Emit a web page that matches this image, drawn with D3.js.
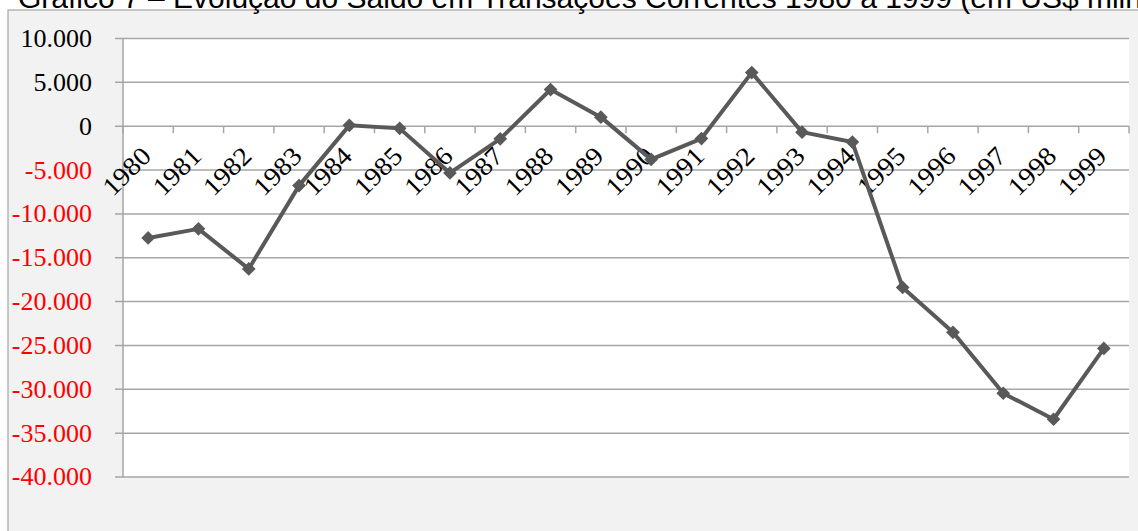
<!DOCTYPE html>
<html>
<head>
<meta charset="utf-8">
<script src="https://cdn.jsdelivr.net/npm/d3@7"></script>
<style>
  body { margin: 0; background: #ffffff; }
  svg { display: block; }
</style>
</head>
<body>
<div id="chart"></div>
<script>
var width = 1138
var height = 531

// data: saldo em transacoes correntes (US$ milhoes)
var years = ["1980","1981","1982","1983","1984","1985","1986","1987","1988","1989",
             "1990","1991","1992","1993","1994","1995","1996","1997","1998","1999"]
var saldo = [-12739, -11706, -16273, -6773, 95, -248, -5323, -1438, 4180, 1033,
             -3784, -1407, 6109, -676, -1811, -18384, -23502, -30452, -33416, -25335]
var yTicks = [10000, 5000, 0, -5000, -10000, -15000, -20000, -25000, -30000, -35000, -40000]
var title = "Gráfico 7 – Evolução do Saldo em Transações Correntes 1980 a 1999 (em US$ milhões)"

var plot = {left: 123, right: 1129, top: 38.5, bottom: 477}
var serif = "'Liberation Serif', 'Times New Roman', serif"

var svg = d3.select("#chart").append("svg")
    .attr("width", width)
    .attr("height", height)

// outer chart area
svg.append("rect")
    .attr("x", 8)
    .attr("y", 10)
    .attr("width", width)
    .attr("height", height)
    .attr("fill", "#f2f2f2")
    .attr("stroke", "#a6a6a6")
    .attr("stroke-width", 1.2)

svg.append("text")
    .text(title)
    .attr("x", 18)
    .attr("y", 8)
    .attr("font-family", "'Liberation Sans', Arial, sans-serif")
    .attr("font-size", "30px")
    .attr("fill", "#000")

svg.append("rect")
    .attr("x", plot.left)
    .attr("y", plot.top)
    .attr("width", plot.right - plot.left)
    .attr("height", plot.bottom - plot.top)
    .attr("fill", "#ffffff")

var x = d3.scaleBand()
    .domain(years)
    .range([plot.left, plot.right])

var y = d3.scaleLinear()
    .domain([-40000, 10000])
    .range([plot.bottom, plot.top])

// gridlines (extend left as tick marks)
svg.append("g")
    .selectAll("line")
    .data(yTicks)
    .enter().append("line")
    .attr("x1", plot.left - 8)
    .attr("x2", plot.right)
    .attr("y1", function(d) { return y(d) })
    .attr("y2", function(d) { return y(d) })
    .attr("stroke", "#a6a6a6")
    .attr("stroke-width", 1.5)

// y axis line
svg.append("line")
    .attr("x1", plot.left).attr("x2", plot.left)
    .attr("y1", plot.top).attr("y2", plot.bottom)
    .attr("stroke", "#a6a6a6")
    .attr("stroke-width", 1.5)

// y labels, slightly stretched wide like the original
svg.append("g")
    .attr("transform", "translate(92,0) scale(1.04,1)")
    .selectAll("text")
    .data(yTicks)
    .enter().append("text")
    .text(function(d) { return d3.format(",")(d).replace(/,/g, ".").replace("−", "-") })
    .attr("x", 0)
    .attr("y", function(d) { return y(d) })
    .attr("dy", "0.34em")
    .attr("text-anchor", "end")
    .attr("font-family", serif)
    .attr("font-size", "25px")
    .attr("fill", function(d) { return d < 0 ? "#ff0000" : "#000000" })

// x axis at zero with ticks between categories
var y0 = y(0)
var boundaries = years.map(function(d) { return x(d) }).concat([plot.right])
svg.append("g")
    .selectAll("line")
    .data(boundaries)
    .enter().append("line")
    .attr("x1", function(d) { return d })
    .attr("x2", function(d) { return d })
    .attr("y1", y0)
    .attr("y2", y0 + 7)
    .attr("stroke", "#a6a6a6")
    .attr("stroke-width", 1.5)

svg.append("g")
    .selectAll("text")
    .data(years)
    .enter().append("text")
    .text(function(d) { return d })
    .attr("transform", function(d) {
        var cx = x(d) + x.bandwidth() / 2 - 2
        return "translate(" + cx + "," + (y0 + 25) + ") rotate(-45) scale(1.08,1)"
    })
    .attr("text-anchor", "end")
    .attr("dy", "0.35em")
    .attr("font-family", serif)
    .attr("font-size", "26px")
    .attr("fill", "#000")

// line series
var line = d3.line()
    .x(function(d, i) { return x(years[i]) + x.bandwidth() / 2 })
    .y(function(d) { return y(d) })

svg.append("path")
    .datum(saldo)
    .attr("d", line)
    .attr("fill", "none")
    .attr("stroke", "#595959")
    .attr("stroke-width", 4)
    .attr("stroke-linejoin", "round")

svg.append("g")
    .selectAll("path")
    .data(saldo)
    .enter().append("path")
    .attr("d", d3.symbol().type(d3.symbolDiamond2).size(120))
    .attr("transform", function(d, i) {
        return "translate(" + (x(years[i]) + x.bandwidth() / 2) + "," + y(d) + ")"
    })
    .attr("fill", "#595959")
</script>
</body>
</html>
